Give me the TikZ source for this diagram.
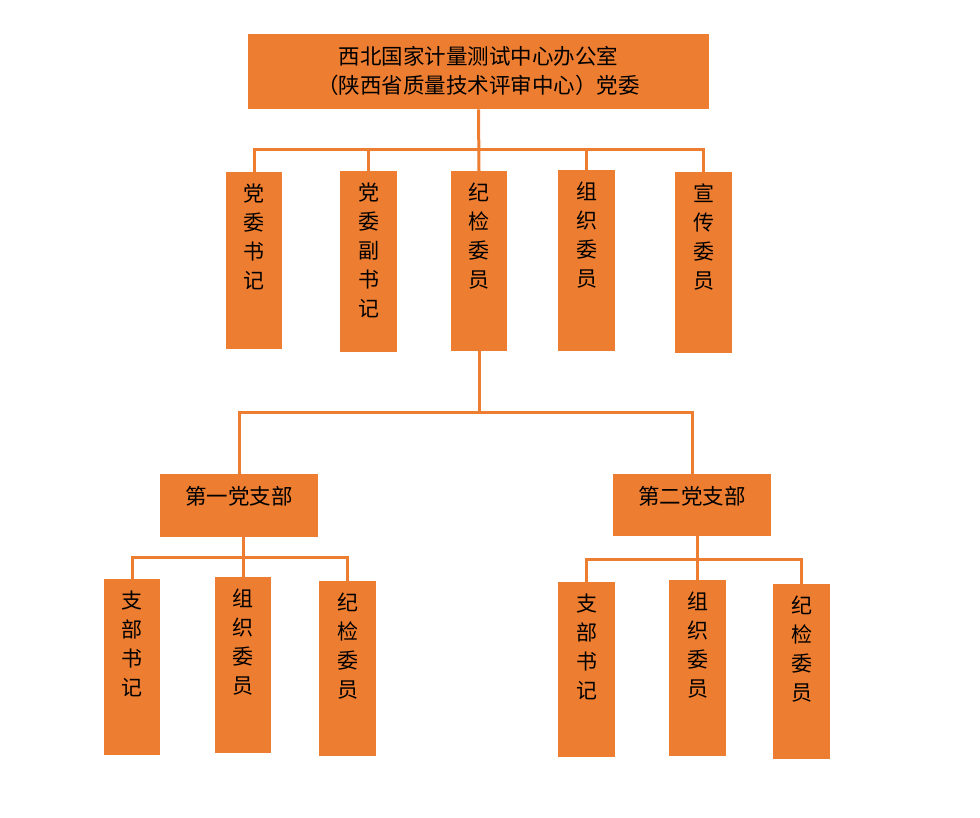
\documentclass[tikz,border=0pt]{standalone}
\usepackage{fontspec}
\setmainfont{Noto Sans CJK SC}
\definecolor{boxorange}{HTML}{ED7D31}

\begin{document}
\begin{tikzpicture}[x=1pt, y=-1pt,
    box/.style={draw=none, fill=boxorange, rectangle, anchor=north, inner sep=0pt},
    txt/.style={anchor=north, yshift=-12pt, align=center, inner sep=0pt, font=\fontsize{21}{29}\selectfont},
    conn/.style={draw=boxorange, line width=3pt}]
    \useasboundingbox (0,0) rectangle (980,817);
    % top level
    \node (top) [box, minimum width=461pt, minimum height=75pt, label={[txt, font=\fontsize{21.5}{29}\selectfont]north:西北国家计量测试中心办公室\\（陕西省质量技术评审中心）党委}] at (478.5,34) {};
    % committee members
    \node (shuji) [box, minimum width=56pt, minimum height=177pt, label={[txt]north:党\\委\\书\\记}] at (254,172) {};
    \node (fushuji) [box, minimum width=57pt, minimum height=181pt, label={[txt]north:党\\委\\副\\书\\记}] at (368.5,171) {};
    \node (jijian) [box, minimum width=56pt, minimum height=180pt, label={[txt]north:纪\\检\\委\\员}] at (479,171) {};
    \node (zuzhi) [box, minimum width=57pt, minimum height=181pt, label={[txt]north:组\\织\\委\\员}] at (586.5,170) {};
    \node (xuanchuan) [box, minimum width=57pt, minimum height=181pt, label={[txt]north:宣\\传\\委\\员}] at (703.5,172) {};
    % branches
    \node (zhibu1) [box, minimum width=158pt, minimum height=63pt, label={[txt, font=\fontsize{21.5}{29}\selectfont]north:第一党支部}] at (239,474) {};
    \node (zhibu2) [box, minimum width=158pt, minimum height=62pt, label={[txt, font=\fontsize{21.5}{29}\selectfont]north:第二党支部}] at (692,474) {};
    % branch members
    \node (shuji1) [box, minimum width=56pt, minimum height=176pt, label={[txt]north:支\\部\\书\\记}] at (132,579) {};
    \node (zuzhi1) [box, minimum width=56pt, minimum height=176pt, label={[txt]north:组\\织\\委\\员}] at (243,577) {};
    \node (jijian1) [box, minimum width=57pt, minimum height=175pt, label={[txt]north:纪\\检\\委\\员}] at (347.5,581) {};
    \node (shuji2) [box, minimum width=57pt, minimum height=175pt, label={[txt]north:支\\部\\书\\记}] at (586.5,582) {};
    \node (zuzhi2) [box, minimum width=57pt, minimum height=176pt, label={[txt]north:组\\织\\委\\员}] at (697.5,580) {};
    \node (jijian2) [box, minimum width=57pt, minimum height=175pt, label={[txt]north:纪\\检\\委\\员}] at (801.5,584) {};
    % bus lines
    \coordinate (bus) at (478,149);
    \coordinate (branch) at (474,412);
    \coordinate (bus1) at (243,557);
    \coordinate (bus2) at (697,559);
    % connectors
    \draw [conn] (top.south) -- (jijian.north);
    \draw [conn] (shuji.north) |- (bus) -| (xuanchuan.north);
    \draw [conn] (fushuji.north |- bus) -- (fushuji.north);
    \draw [conn] (zuzhi.north |- bus) -- (zuzhi.north);
    \draw [conn] (branch -| jijian.south) -- (jijian.south);
    \draw [conn] (zhibu1.north) |- (branch) -| (zhibu2.north);
    \draw [conn] (zuzhi1.north |- zhibu1.south) -- (zuzhi1.north);
    \draw [conn] (shuji1.north) |- (bus1) -| (jijian1.north);
    \draw [conn] (zuzhi2.north |- zhibu2.south) -- (zuzhi2.north);
    \draw [conn] (shuji2.north) |- (bus2) -| (jijian2.north);
\end{tikzpicture}
\end{document}
